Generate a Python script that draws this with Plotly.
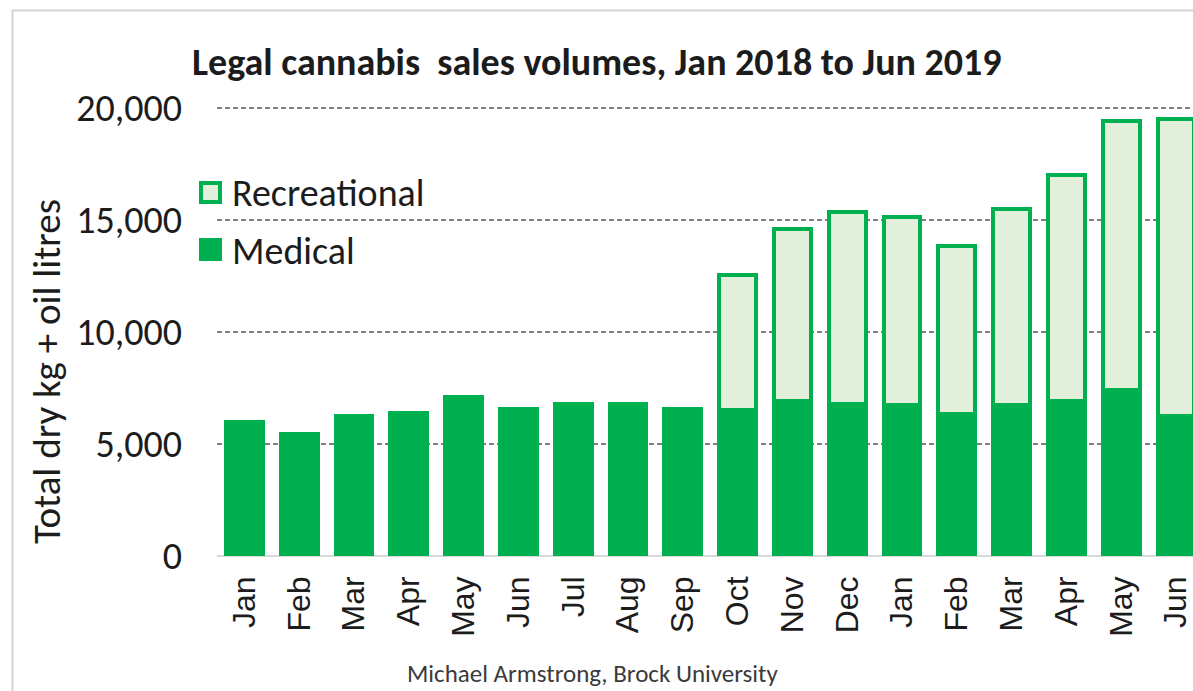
import plotly.graph_objects as go

# Monthly legal cannabis sales volumes (dry kg + oil litres), Jan 2018 - Jun 2019
months = ["Jan", "Feb", "Mar", "Apr", "May", "Jun", "Jul", "Aug", "Sep",
          "Oct", "Nov", "Dec", "Jan", "Feb", "Mar", "Apr", "May", "Jun"]
medical = [6000, 5450, 6250, 6400, 7100, 6550, 6800, 6800, 6550,
           6500, 6900, 6800, 6750, 6350, 6750, 6900, 7400, 6250]
# recreational sales began in October 2018
recreational = [None, None, None, None, None, None, None, None, None,
                6050, 7700, 8550, 8400, 7500, 8750, 10100, 12000, 13250]
y_ticks = [0, 5000, 10000, 15000, 20000]
y_ticktext = ["0", "5,000", "10,000", "15,000", "20,000"]

GREEN = "#00B050"
LIGHT = "#E2EFDA"
TEXT = "#1c1c1c"
SANS = "Carlito, Calibri, Lato, sans-serif"

W, H = 1193, 691
L, R, T, B = 217, 0, 107, 135
PW, PH = W - L - R, H - T - B
SLOT = 54.8      # pixel width of one month on the category axis
Y_MAX = 20045    # a little headroom so the 20,000 gridline is drawn


def px_x(px):
    return (px - L) / PW


def px_y(py):
    return (H - B - py) / PH


x = list(range(len(months)))

fig = go.Figure()
fig.add_trace(go.Bar(
    x=x, y=medical, name="Medical",
    marker=dict(color=GREEN, line=dict(color=GREEN, width=4)),
    showlegend=False,
))
fig.add_trace(go.Bar(
    x=x, y=recreational, name="Recreational",
    marker=dict(color=LIGHT, line=dict(color=GREEN, width=4)),
    showlegend=False,
))

shapes = [
    # light frame around the chart area
    dict(type="path", xref="paper", yref="paper",
         path=f"M {px_x(12.5)} {px_y(H + 5)} L {px_x(12.5)} {px_y(10.5)} L {px_x(W + 5)} {px_y(10.5)}",
         line=dict(color="#d4d4d4", width=2)),
    # legend swatches
    dict(type="rect", xref="paper", yref="paper",
         x0=px_x(201), x1=px_x(220), y0=px_y(202), y1=px_y(183),
         fillcolor=LIGHT, line=dict(color=GREEN, width=4)),
    dict(type="rect", xref="paper", yref="paper",
         x0=px_x(199), x1=px_x(222), y0=px_y(261), y1=px_y(238),
         fillcolor=GREEN, line=dict(width=0)),
]

annotations = [
    dict(text="Recreational", xref="paper", yref="paper", x=px_x(230), y=px_y(193),
         xanchor="left", yanchor="middle", showarrow=False,
         font=dict(family=SANS, size=38, color=TEXT)),
    dict(text="Medical", xref="paper", yref="paper", x=px_x(230), y=px_y(251),
         xanchor="left", yanchor="middle", showarrow=False,
         font=dict(family=SANS, size=38, color=TEXT)),
    # y-axis title
    dict(text="Total dry kg + oil litres", xref="paper", yref="paper",
         x=px_x(46), y=px_y(372), xanchor="center", yanchor="middle",
         textangle=-90, showarrow=False,
         font=dict(family=SANS, size=39, color=TEXT)),
    dict(text="Michael Armstrong, Brock University", xref="paper", yref="paper",
         x=px_x(592), y=px_y(673), xanchor="center", yanchor="middle", showarrow=False,
         font=dict(family=SANS, size=25, color="#3a3a3a")),
]

fig.update_layout(
    width=W, height=H,
    margin=dict(l=L, r=R, t=T, b=B, autoexpand=False),
    paper_bgcolor="white", plot_bgcolor="white",
    barmode="stack", bargap=0.33,
    title=dict(
        text="Legal cannabis\u00a0 sales volumes, Jan 2018 to Jun 2019",
        x=192 / W, xanchor="left", xref="container",
        y=1 - 62 / H, yanchor="middle", yref="container",
        font=dict(family=SANS, size=38, color=TEXT, weight="bold"),
    ),
    xaxis=dict(
        range=[-0.5, (PW / SLOT) - 0.5],
        tickvals=x, ticktext=months, tickangle=-90,
        tickfont=dict(family="Liberation Sans, Arial, sans-serif", size=32, color=TEXT),
        ticks="", ticklabelstandoff=13, ticklabeloverflow="allow",
        showgrid=False, zeroline=False, showline=False,
        fixedrange=True,
    ),
    yaxis=dict(
        range=[0, Y_MAX],
        tickvals=y_ticks, ticktext=y_ticktext,
        tickfont=dict(family=SANS, size=38, color=TEXT),
        ticks="", ticklabelstandoff=34,
        showgrid=True, gridcolor="#808080", gridwidth=1.5, griddash="5px,3px",
        zeroline=True, zerolinecolor="#d9d9d9", zerolinewidth=2,
        showline=False,
        fixedrange=True,
    ),
    shapes=shapes,
    annotations=annotations,
)

fig.write_html("out.html")
